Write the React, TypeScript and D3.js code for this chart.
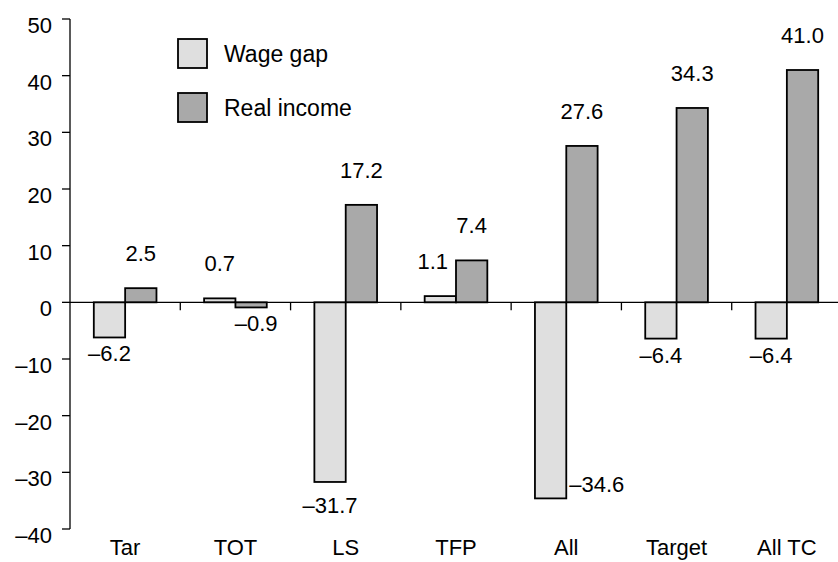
import React from "react";
import * as d3 from "d3";

const categories = ["Tar", "TOT", "LS", "TFP", "All", "Target", "All TC"];
const seriesNames = ["Wage gap", "Real income"];
const wageGap = [-6.2, 0.7, -31.7, 1.1, -34.6, -6.4, -6.4];
const realIncome = [2.5, -0.9, 17.2, 7.4, 27.6, 34.3, 41.0];
const yTicks = [-40, -30, -20, -10, 0, 10, 20, 30, 40, 50];
const colors = ["#dfdfdf", "#a9a9a9"];

const W = 838;
const H = 562;
const FONT = "'Liberation Sans', Arial, Helvetica, sans-serif";

function fmt(v: number) {
  const s = Math.abs(v).toFixed(1);
  return v < 0 ? "\u2013" + s : s;
}

export default function App() {
  const y = d3.scaleLinear().domain([-40, 50]).range([529, 19]);
  const x0 = d3.scaleBand<string>().domain(categories).range([70, 842]).padding(0);
  const x1 = d3
    .scaleBand<string>()
    .domain(seriesNames)
    .range([0, x0.bandwidth()])
    .paddingInner(0)
    .paddingOuter(0.76);
  const y0 = y(0);
  const series = [wageGap, realIncome];

  const bars: React.ReactNode[] = [];
  const labels: React.ReactNode[] = [];
  categories.forEach((c, i) => {
    series.forEach((vals, s) => {
      const v = vals[i];
      const bx = (x0(c) as number) + (x1(seriesNames[s]) as number);
      const bw = x1.bandwidth();
      const top = y(Math.max(0, v));
      const bot = y(Math.min(0, v));
      bars.push(
        <rect
          key={`b-${i}-${s}`}
          x={bx}
          y={top}
          width={bw}
          height={bot - top}
          fill={colors[s]}
          stroke="#000"
          strokeWidth={1.8}
        />
      );
      let lx = bx + bw / 2;
      let ly = v >= 0 ? top - 27 : bot + 24;
      let anchor: "middle" | "start" | "end" = "middle";
      if (c === "LS" && s === 0) ly = bot + 31;
      if (c === "All" && s === 0) {
        lx = bx + bw + 3;
        ly = bot - 6;
        anchor = "start";
      }
      if (c === "TFP" && s === 0) {
        lx = bx + bw - 8;
        anchor = "end";
      }
      if (c === "TOT" && s === 1) lx += 5;
      labels.push(
        <text key={`l-${i}-${s}`} x={lx} y={ly} textAnchor={anchor} fontSize={22}>
          {fmt(v)}
        </text>
      );
    });
  });

  return (
    <svg
      width={W}
      height={H}
      style={{ position: "absolute", left: 0, top: 0, background: "#fff" }}
      fontFamily={FONT}
    >
      <rect x={0} y={0} width={W} height={H} fill="#fff" />
      {/* y axis */}
      <line x1={70} x2={70} y1={y(-40)} y2={y(50)} stroke="#000" strokeWidth={1.3} />
      {yTicks.map((t) => (
        <g key={t}>
          <line x1={62} x2={70} y1={y(t)} y2={y(t)} stroke="#000" strokeWidth={1.3} />
          <text x={52} y={y(t) + 14} textAnchor="end" fontSize={22}>
            {fmt(t).replace(".0", "")}
          </text>
        </g>
      ))}
      {bars}
      {/* zero line */}
      <line x1={70} x2={838} y1={y0} y2={y0} stroke="#000" strokeWidth={1.3} />
      {categories.slice(1).map((c) => (
        <line
          key={`t-${c}`}
          x1={x0(c) as number}
          x2={x0(c) as number}
          y1={y0}
          y2={y0 + 8}
          stroke="#000"
          strokeWidth={1.3}
        />
      ))}
      {labels}
      {categories.map((c) => (
        <text
          key={`x-${c}`}
          x={(x0(c) as number) + x0.bandwidth() / 2}
          y={555}
          textAnchor="middle"
          fontSize={22}
        >
          {c}
        </text>
      ))}
      {/* legend */}
      {seriesNames.map((n, s) => (
        <g key={`lg-${n}`}>
          <rect
            x={178}
            y={39 + s * 54}
            width={29}
            height={29}
            fill={colors[s]}
            stroke="#000"
            strokeWidth={1.8}
          />
          <text x={224} y={62 + s * 54} fontSize={23}>
            {n}
          </text>
        </g>
      ))}
    </svg>
  );
}
